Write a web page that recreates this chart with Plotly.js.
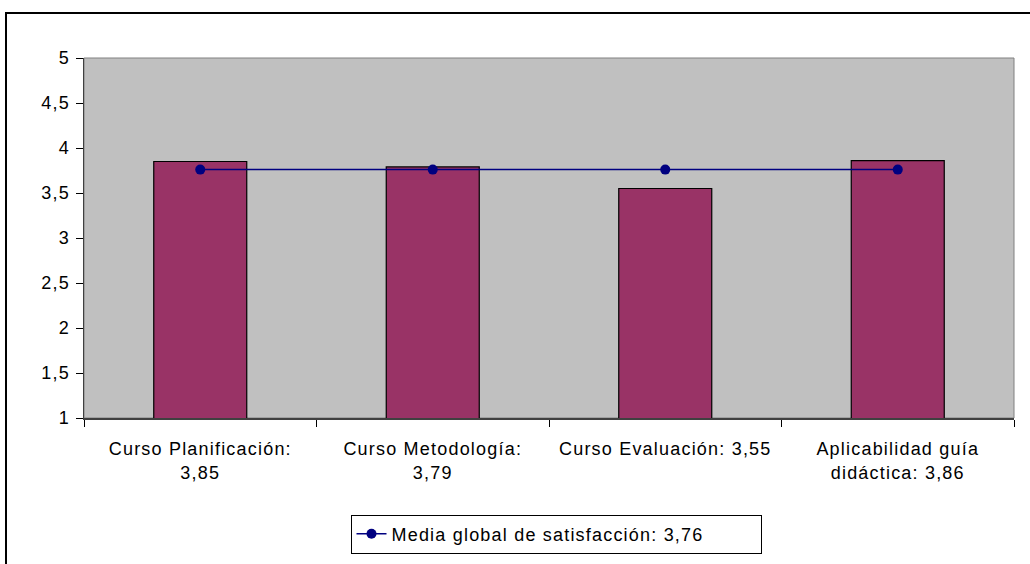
<!DOCTYPE html>
<html>
<head>
<meta charset="utf-8">
<script src="https://cdn.plot.ly/plotly-3.0.1.min.js"></script>
<style>
html,body{margin:0;padding:0;background:#fff;}
#chart{width:1030px;height:564px;}
#chart .xtick text, #chart .ytick text, #chart .legendtext{letter-spacing:1.2px;}
</style>
</head>
<body>
<div id="chart"></div>
<script>
const categories = ["Curso Planificación:<br>3,85", "Curso Metodología:<br>3,79", "Curso Evaluación: 3,55", "Aplicabilidad guía<br>didáctica: 3,86"];
const barValues = [3.85, 3.79, 3.55, 3.86];
const mediaValues = [3.76, 3.76, 3.76, 3.76];
const mediaName = "Media global de satisfacción: 3,76";
const yTicks = [1, 1.5, 2, 2.5, 3, 3.5, 4, 4.5, 5];

const L = 84, R = 16, T = 58, B = 146;
const W = 1030, H = 564;
const pw = W - L - R, ph = H - T - B;
function px2x(px){ return (px - L) / pw; }
function py2y(py){ return (H - B - py) / ph; }

const data = [
  {
    type: 'bar', x: categories, y: barValues, base: 0,
    marker: {color: '#993366', line: {color: '#000000', width: 1.2}},
    width: 0.4, showlegend: false, hoverinfo: 'skip'
  },
  {
    type: 'scatter', mode: 'lines+markers', x: categories, y: mediaValues,
    name: mediaName,
    line: {color: '#000080', width: 1.5},
    marker: {color: '#000080', size: 10, symbol: 'circle'}
  }
];

const layout = {
  width: W, height: H,
  margin: {l: L, r: R, t: T, b: B, autoexpand: false},
  paper_bgcolor: '#ffffff', plot_bgcolor: '#c0c0c0',
  font: {family: '"Liberation Sans", Arial, sans-serif', size: 18, color: '#000'},
  separators: ',.',
  showlegend: true,
  legend: {
    orientation: 'h', x: px2x(556), xanchor: 'center', y: py2y(534), yanchor: 'middle',
    bordercolor: '#000', borderwidth: 1, bgcolor: '#fff', font: {size: 18},
    entrywidth: 364, entrywidthmode: 'pixels'
  },
  xaxis: {
    type: 'category', tickson: 'boundaries', ticks: 'outside', ticklen: 7, tickcolor: '#000',
    showline: true, linecolor: '#404040', linewidth: 1.5, showgrid: false, zeroline: false,
    tickfont: {size: 18}, ticklabelstandoff: 14, fixedrange: true
  },
  yaxis: {
    range: [1, 5], tickvals: yTicks, ticks: 'outside', ticklen: 7, tickcolor: '#000',
    showline: true, linecolor: '#404040', linewidth: 1.5, showgrid: false, zeroline: false,
    tickfont: {size: 18}, ticklabelstandoff: 2, fixedrange: true
  },
  shapes: [
    {type: 'rect', xref: 'paper', yref: 'paper', x0: 0, x1: 1, y0: 0, y1: 1,
     line: {color: '#808080', width: 1}, layer: 'below'},
    {type: 'rect', xref: 'paper', yref: 'paper', x0: px2x(6), x1: px2x(1040), y0: py2y(13), y1: py2y(580),
     line: {color: '#000', width: 2}}
  ]
};

Plotly.newPlot('chart', data, layout, {displayModeBar: false, staticPlot: true});
</script>
</body>
</html>
